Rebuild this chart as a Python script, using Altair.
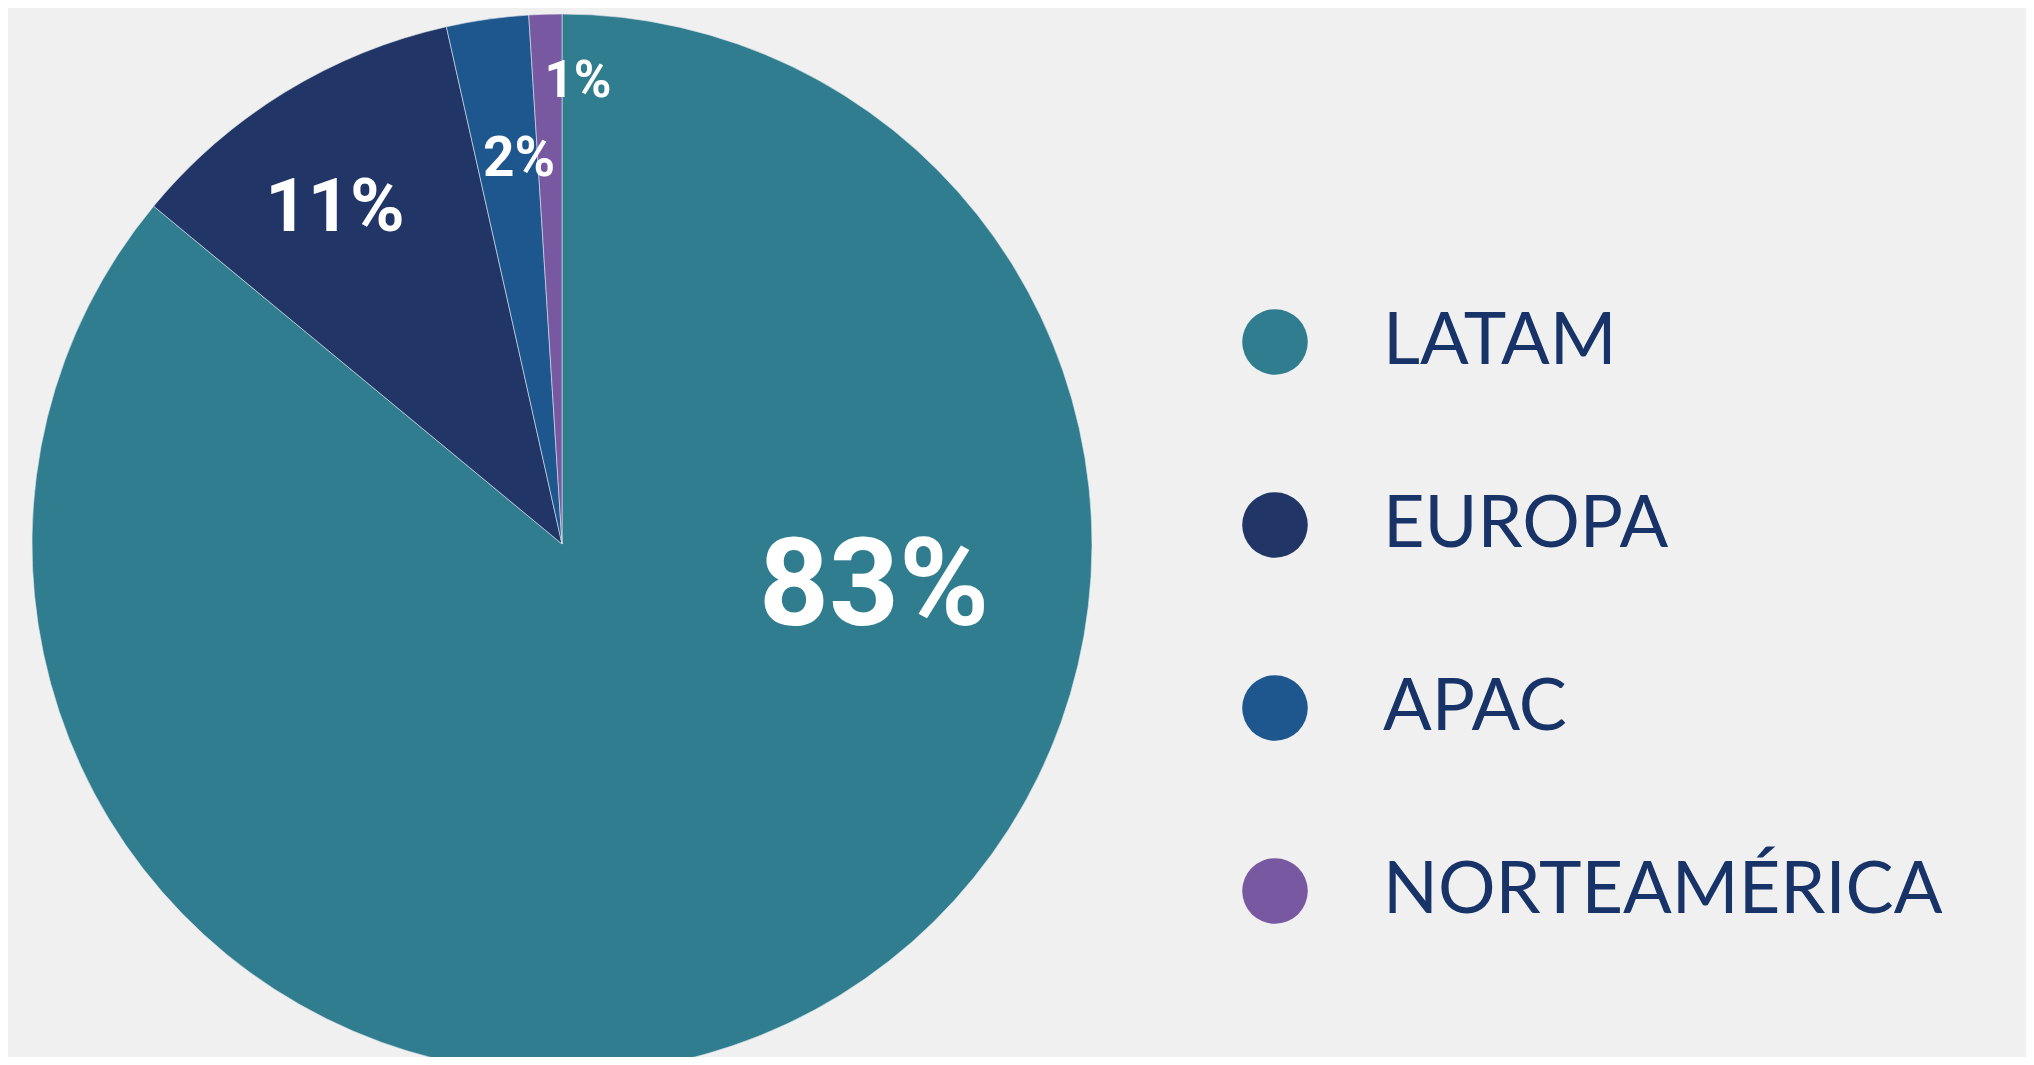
import altair as alt
import pandas as pd

# Data
regions = ["LATAM", "EUROPA", "APAC", "NORTEAMÉRICA"]
shares = [86.0, 10.5, 2.5, 1.0]          # slice sizes as drawn
labels = ["83%", "11%", "2%", "1%"]      # printed labels
colors = ["#307D8F", "#213667", "#1E568E", "#7858A0"]

df = pd.DataFrame({"region": regions, "share": shares, "label": labels,
                   "idx": list(range(len(regions)))})

W, H = 2018, 1049
CX, CY, R = 554, 536, 530

color_scale = alt.Scale(domain=regions, range=colors)

pie = alt.Chart(df).mark_arc(outerRadius=R, stroke="#dfe6ee", strokeWidth=0.6).encode(
    theta=alt.Theta("share:Q", stack=True),
    order=alt.Order("idx:Q"),
    color=alt.Color("region:N", scale=color_scale,
                    legend=alt.Legend(
                        title=None, orient="none", legendX=1231, legendY=298,
                        symbolType="circle", symbolSize=4300, symbolStrokeWidth=0,
                        symbolOpacity=1, labelFont="Lato", labelFontSize=72,
                        labelColor="#173368", labelOffset=72, rowPadding=111,
                        labelLimit=1000)),
    x=alt.value(CX), y=alt.value(CY),
)

# label placement (annotation layout)
label_pos = {
    "83%": (866, 580, 122),
    "11%": (327, 201, 74),
    "2%": (511, 151, 55),
    "1%": (570, 74, 51),
}
layers = [pie]
for lab in labels:
    x, y, fs = label_pos[lab]
    layers.append(
        alt.Chart(df).transform_filter(alt.datum.label == lab).mark_text(
            font="Roboto", fontWeight=700, fontSize=fs, color="white",
            align="center", baseline="middle").encode(
            text="label:N", x=alt.value(x), y=alt.value(y))
    )

chart = alt.layer(*layers).properties(
    width=W, height=H, background="#F0F0F0",
    autosize=alt.AutoSizeParams(type="none"), padding=0,
).configure_view(stroke=None)

chart.save("out.html", embed_options={"renderer": "svg", "actions": False})
